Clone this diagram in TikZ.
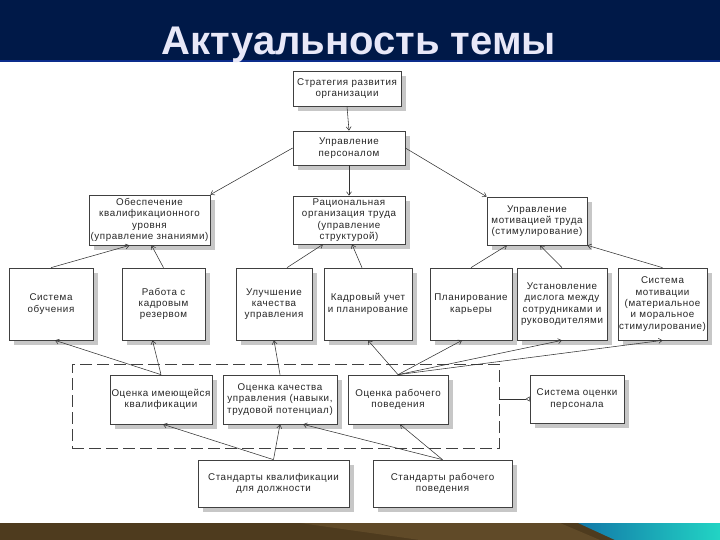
\documentclass[tikz,border=0pt]{standalone}
\usepackage{fontspec}
\setmainfont{Liberation Sans}
\newfontfamily\boxfont[LetterSpace=6]{Liberation Sans}
\usetikzlibrary{arrows.meta,shadows}
\definecolor{navy}{RGB}{0,25,72}
\definecolor{navyline}{RGB}{12,44,140}
\definecolor{titletext}{RGB}{232,232,248}
\definecolor{brownbar}{RGB}{78,59,30}
\definecolor{brownstreak}{RGB}{96,74,40}
\definecolor{tealA}{RGB}{18,120,168}
\definecolor{tealB}{RGB}{34,212,196}
\begin{document}
\begin{tikzpicture}[x=1pt,y=-1pt,
  box/.style={draw=black!75, line width=0.7pt, fill=white, align=center, inner sep=0pt,
    text=black!85,
    font=\boxfont\fontsize{9.8}{11.3}\selectfont,
    drop shadow={shadow xshift=5pt, shadow yshift=-5pt, fill=black!22, opacity=1}},
  conn/.style={draw=black!80, line width=0.55pt, -{Straight Barb[length=3.5pt,width=5pt]}},
  grpbox/.style={draw=black!75, line width=0.7pt, dash pattern=on 12pt off 5pt},
  linkopen/.style={draw=black!80, line width=0.55pt, -{Triangle[open,reversed,length=4pt,width=5pt]}}
]
\useasboundingbox (0,0) rectangle (720,540);
% title bar
\fill[navy] (0,0) rectangle (720,60);
\fill[navyline] (0,60) rectangle (720,62);
\node[anchor=base, text=titletext, font=\bfseries\fontsize{40}{44}\selectfont] (title) at (359,55) {Актуальность темы};
% bottom bar
\fill[brownbar] (0,523) rectangle (720,540);
\fill[brownstreak] (300,523) -- (560,523) -- (600,540) -- (420,540) -- cycle;
\shade[left color=tealA, right color=tealB] (578,523) -- (720,523) -- (720,540) -- (615,540) -- cycle;

% dashed group
\node[grpbox, minimum width=427pt, minimum height=84pt, inner sep=0pt] (grp) at (285.5,406) {};

% row 1-2
\node[box, minimum width=108pt, minimum height=35pt] (strat) at (347,88.5) {Стратегия развития\\организации};
\node[box, minimum width=112pt, minimum height=34pt] (uprav) at (349,148) {Управление\\персоналом};
\node[box, minimum width=121pt, minimum height=50pt] (obesp) at (149.5,220) {Обеспечение\\квалификационного\\уровня\\(управление знаниями)};
\node[box, minimum width=112pt, minimum height=48pt] (ration) at (349,220) {Рациональная\\организация труда\\(управление\\структурой)};
\node[box, minimum width=100pt, minimum height=48pt] (motiv) at (537,221) {Управление\\мотивацией труда\\(стимулирование)};

% row 3
\node[box, minimum width=84pt, minimum height=72pt] (obuch) at (51,304) {Система\\обучения};
\node[box, minimum width=83pt, minimum height=72pt] (rabota) at (163.5,304) {Работа с\\кадровым\\резервом};
\node[box, minimum width=76pt, minimum height=72pt] (uluch) at (274,304) {Улучшение\\качества\\управления};
\node[box, minimum width=88pt, minimum height=72pt] (kadr) at (368,304) {Кадровый учет\\и планирование};
\node[box, minimum width=82pt, minimum height=72pt] (plan) at (471,304) {Планирование\\карьеры};
\node[box, minimum width=90pt, minimum height=72pt] (ustan) at (562,304) {Установление\\дислога между\\сотрудниками и\\руководителями};
\node[box, minimum width=89pt, minimum height=72pt] (sistmot) at (662.5,304) {Система\\мотивации\\(материальное\\и моральное\\стимулирование)};

% row 4
\node[box, minimum width=102pt, minimum height=49pt] (ocimey) at (161,399.5) {Оценка имеющейся\\квалификации};
\node[box, minimum width=114pt, minimum height=49pt] (ockach) at (280,399.5) {Оценка качества\\управления (навыки,\\трудовой потенциал)};
\node[box, minimum width=100pt, minimum height=49pt] (ocrab) at (398,399.5) {Оценка рабочего\\поведения};
\node[box, minimum width=94pt, minimum height=48pt] (sistoc) at (577,399) {Система оценки\\персонала};

% row 5
\node[box, minimum width=151pt, minimum height=47pt] (stkv) at (273.5,483.5) {Стандарты квалификации\\для должности};
\node[box, minimum width=139pt, minimum height=47pt] (strab) at (442.5,483.5) {Стандарты рабочего\\поведения};

% connectors top
\draw[conn] (strat.south) -- (uprav.north);
\draw[conn] (uprav.west) -- (obesp.north east);
\draw[conn] (uprav.south) -- (ration.north);
\draw[conn] (uprav.east) -- (motiv.north west);

% row 3 -> row 2
\draw[conn] (obuch.north) -- ([xshift=-20pt]obesp.south);
\draw[conn] (rabota.north) -- ([xshift=2pt]obesp.south);
\draw[conn] ([xshift=13pt]uluch.north) -- ([xshift=-26pt]ration.south);
\draw[conn] ([xshift=-6pt]kadr.north) -- ([xshift=3pt]ration.south);
\draw[conn] (plan.north) -- ([xshift=-30pt]motiv.south);
\draw[conn] (ustan.north) -- ([xshift=3pt]motiv.south);
\draw[conn] (sistmot.north) -- (motiv.south east);

% row 4 -> row 3
\draw[conn] (ocimey.north) -- ([xshift=4pt]obuch.south);
\draw[conn] (ocimey.north) -- ([xshift=-11pt]rabota.south);
\draw[conn] (ockach.north) -- (uluch.south);
\draw[conn] (ocrab.north) -- (kadr.south);
\draw[conn] (ocrab.north) -- ([xshift=-9pt]plan.south);
\draw[conn] (ocrab.north) -- (ustan.south);
\draw[conn] (ocrab.north) -- (sistmot.south);

% row 5 -> row 4
\draw[conn] (stkv.north) -- ([xshift=2pt]ocimey.south);
\draw[conn] (stkv.north) -- (ockach.south);
\draw[conn] (strab.north) -- ([xshift=23pt]ockach.south);
\draw[conn] (strab.north) -- ([xshift=2pt]ocrab.south);

% group -> evaluation system
\draw[linkopen] ([yshift=7pt]grp.east) -- (sistoc.west);
\end{tikzpicture}
\end{document}
